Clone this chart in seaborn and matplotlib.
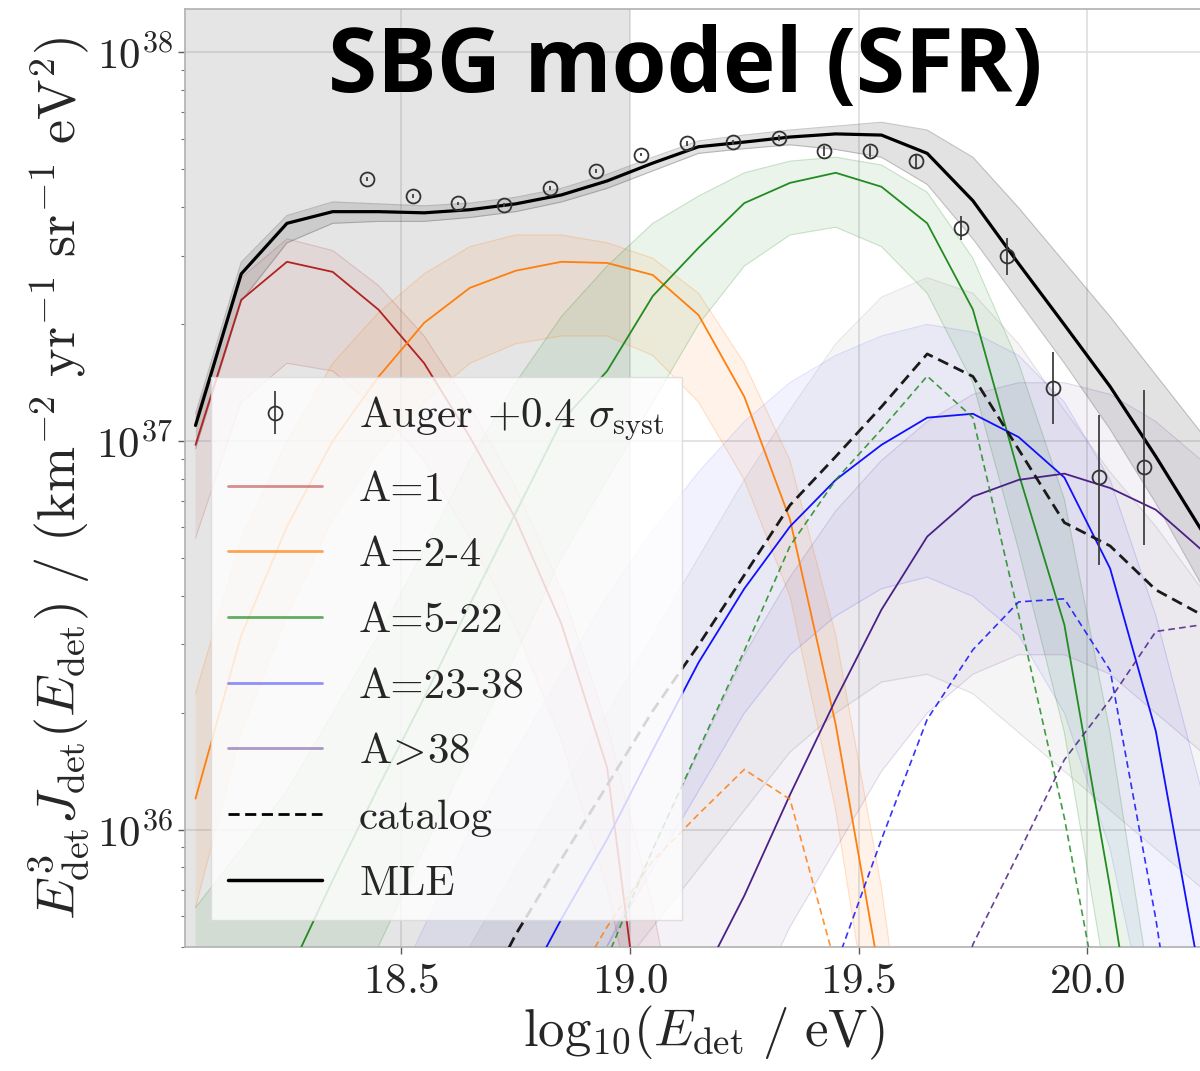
import numpy as np
import matplotlib
matplotlib.use("Agg")
import matplotlib.pyplot as plt
from matplotlib.lines import Line2D
from matplotlib.ticker import LogLocator, NullFormatter
import seaborn as sns

nan = np.nan

# model bin centres, log10(E_det / eV)
E_BINS = [18.05, 18.15, 18.25, 18.35, 18.45, 18.55, 18.65, 18.75, 18.85, 18.95, 19.05,
          19.15, 19.25, 19.35, 19.45, 19.55, 19.65, 19.75, 19.85, 19.95, 20.05, 20.15, 20.25]

# --- MLE curves, log10(E^3 J) ---
MLE_TOTAL = [37.04, 37.43, 37.56, 37.59, 37.59, 37.587, 37.595, 37.61, 37.633, 37.669, 37.715,
             37.757, 37.769, 37.782, 37.79, 37.787, 37.74, 37.618, 37.456, 37.299, 37.14, 36.96, 36.77]
MLE_A1 = [36.99, 37.363, 37.461, 37.435, 37.338, 37.2, 37.01, 36.8, 36.53, 36.16, 35.24,
          34.5] + [nan] * 11
MLE_A2_4 = [36.08, 36.5, 36.78, 37.0, 37.165, 37.304, 37.394, 37.438, 37.461, 37.458, 37.427,
            37.324, 37.114, 36.798, 36.27, 35.6, 34.8] + [nan] * 6
MLE_A5_22 = [35.3, 35.45, 35.62, 35.87, 36.11, 36.34, 36.58, 36.815, 37.05, 37.18, 37.373,
             37.497, 37.612, 37.664, 37.69, 37.654, 37.56, 37.338, 36.916, 36.527, 35.85, 35.1, nan]
MLE_A23_38 = [nan] * 4 + [34.9, 35.2, 35.4, 35.55, 35.77, 35.975, 36.205, 36.43, 36.62, 36.78,
                          36.9, 36.99, 37.06, 37.07, 37.01, 36.906, 36.672, 36.253, 35.6]
MLE_A38 = [nan] * 7 + [34.6, 34.8, 35.0, 35.3, 35.6, 35.83, 36.09, 36.335, 36.566, 36.754,
                       36.857, 36.90, 36.916, 36.879, 36.823, 36.72]

# --- catalog contribution (dashed) ---
CAT_TOTAL = [nan] * 6 + [35.5, 35.73, 35.924, 36.114, 36.306, 36.475, 36.655, 36.835, 36.96,
                         37.088, 37.224, 37.166, 36.978, 36.79, 36.73, 36.617, 36.553]
CAT_A2_4 = [nan] * 7 + [35.3, 35.55, 35.75, 35.92, 36.04, 36.155, 36.078, 35.65, 35.0] + [nan] * 7
CAT_A5_22 = [nan] * 9 + [35.67, 35.95, 36.206, 36.46, 36.73, 36.9, 37.03, 37.167, 37.06,
                         36.553, 36.03, 35.4, nan, nan]
CAT_A23_38 = [nan] * 13 + [35.3, 35.65, 35.975, 36.284, 36.463, 36.586, 36.594, 36.41, 35.77, 35.0]
CAT_A38 = [nan] * 16 + [35.3, 35.705, 35.94, 36.18, 36.335, 36.51, 36.527]

# --- spread of the posterior samples (upper / lower edge of each bundle) ---
TOT_HI = [37.07, 37.46, 37.58, 37.615, 37.61, 37.605, 37.612, 37.627, 37.65, 37.686, 37.73,
          37.772, 37.787, 37.80, 37.81, 37.82, 37.80, 37.73, 37.60, 37.46, 37.32, 37.17, 37.02]
TOT_LO = [36.98, 37.36, 37.51, 37.56, 37.565, 37.565, 37.575, 37.59, 37.615, 37.65, 37.695,
          37.74, 37.752, 37.762, 37.75, 37.73, 37.66, 37.52, 37.36, 37.20, 37.03, 36.84, 36.63]
CATS_HI = [nan] * 6 + [35.7, 35.9, 36.1, 36.3, 36.5, 36.7, 36.9, 37.08, 37.25, 37.37, 37.42,
                       37.38, 37.25, 37.08, 36.92, 36.78, 36.62]
CATS_LO = [nan] * 6 + [35.1, 35.3, 35.45, 35.6, 35.75, 35.9, 36.05, 36.2, 36.3, 36.38, 36.4,
                       36.35, 36.25, 36.15, 36.05, 35.95, 35.85]
A1_HI = [37.06, 37.42, 37.52, 37.49, 37.40, 37.27, 37.09, 36.88, 36.62, 36.27, 35.8, 35.2] + [nan] * 11
A1_LO = [36.75, 37.10, 37.20, 37.18, 37.08, 36.95, 36.75, 36.52, 36.23, 35.85, 35.3, 34.6] + [nan] * 11
A2_HI = [36.35, 36.75, 37.0, 37.2, 37.33, 37.43, 37.5, 37.53, 37.53, 37.51, 37.47, 37.38, 37.2,
         36.95, 36.5, 35.85, 35.0] + [nan] * 6
A2_LO = [35.8, 36.25, 36.55, 36.8, 36.97, 37.1, 37.2, 37.25, 37.27, 37.27, 37.22, 37.1, 36.9,
         36.6, 36.05, 35.3, 34.5] + [nan] * 6
A5_HI = [35.8, 35.95, 36.1, 36.3, 36.5, 36.72, 36.95, 37.15, 37.32, 37.45, 37.56, 37.63, 37.69,
         37.72, 37.73, 37.71, 37.64, 37.47, 37.2, 36.85, 36.25, 35.5, 34.8]
A5_LO = [34.8, 35.0, 35.2, 35.45, 35.7, 35.95, 36.2, 36.45, 36.7, 36.9, 37.1, 37.3, 37.45,
         37.53, 37.55, 37.5, 37.38, 37.15, 36.72, 36.25, 35.55, 34.85, 34.2]
A23_HI = [nan] * 4 + [35.5, 35.75, 36.0, 36.2, 36.4, 36.6, 36.77, 36.92, 37.05, 37.15, 37.22,
                      37.27, 37.3, 37.28, 37.22, 37.1, 36.9, 36.55, 36.1]
A23_LO = [nan] * 4 + [34.7, 34.9, 35.1, 35.3, 35.5, 35.7, 35.9, 36.1, 36.3, 36.45, 36.55,
                      36.62, 36.65, 36.6, 36.5, 36.3, 35.95, 35.4, 34.8]
A38_HI = [nan] * 7 + [35.2, 35.45, 35.7, 35.95, 36.2, 36.45, 36.65, 36.82, 36.95, 37.05, 37.12,
                      37.15, 37.15, 37.12, 37.05, 36.95]
A38_LO = [nan] * 7 + [34.3, 34.5, 34.75, 35.0, 35.25, 35.5, 35.75, 35.95, 36.15, 36.3, 36.4,
                      36.45, 36.45, 36.4, 36.3, 36.2]

# --- Auger data (+0.4 sigma_syst), log10 values ---
AUGER_E = [18.425, 18.525, 18.625, 18.725, 18.825, 18.925, 19.025, 19.125, 19.225,
           19.325, 19.425, 19.525, 19.625, 19.725, 19.825, 19.925, 20.025, 20.125]
AUGER_Y = [37.674, 37.631, 37.611, 37.606, 37.650, 37.695, 37.737, 37.766, 37.768,
           37.780, 37.746, 37.745, 37.720, 37.549, 37.477, 37.137, 36.908, 36.934]
AUGER_UP = [37.679, 37.636, 37.616, 37.611, 37.655, 37.700, 37.742, 37.772, 37.774,
            37.787, 37.758, 37.759, 37.737, 37.579, 37.523, 37.230, 37.066, 37.130]
AUGER_DN = [37.669, 37.626, 37.606, 37.601, 37.645, 37.690, 37.732, 37.760, 37.762,
            37.773, 37.734, 37.731, 37.703, 37.517, 37.427, 37.044, 36.682, 36.733]

RED, ORANGE, GREEN, BLUE, PURPLE = "#b22222", "#ff7f0e", "#228b22", "#1010ff", "#4b2185"


def lin(a):
    return 10 ** np.asarray(a, dtype=float)


sns.set_theme(style="whitegrid")
plt.rcParams["font.family"] = ["cmr10", "DejaVu Serif"]
plt.rcParams["mathtext.fontset"] = "cm"
plt.rcParams["axes.formatter.use_mathtext"] = True

fig = plt.figure(figsize=(12, 10.71), dpi=100)
ax = fig.add_axes([185 / 1200, 1 - 946.7 / 1071, 1038 / 1200, 937.4 / 1071])
ax.set_yscale("log")

x = np.array(E_BINS)

# shaded region below 10^19 eV
ax.axvspan(17.9, 19.0, color="0.5", alpha=0.2, lw=0, zorder=0.6)

# sample bundles
bands = [(CATS_LO, CATS_HI, "0.45", 0.07), (A1_LO, A1_HI, RED, 0.07),
         (A2_LO, A2_HI, ORANGE, 0.09), (A5_LO, A5_HI, GREEN, 0.09),
         (A23_LO, A23_HI, BLUE, 0.05), (A38_LO, A38_HI, PURPLE, 0.06),
         (TOT_LO, TOT_HI, "0.3", 0.16)]
for lo, hi, c, a in bands:
    ax.fill_between(x, lin(lo), lin(hi), color=c, alpha=a, lw=0, zorder=1)
    for edge in (lo, hi):
        ax.plot(x, lin(edge), color=c, alpha=min(2.5 * a, 0.3), lw=0.8, zorder=1.1)

# MLE component curves
for vals, c in [(MLE_A1, RED), (MLE_A2_4, ORANGE), (MLE_A5_22, GREEN),
                (MLE_A23_38, BLUE), (MLE_A38, PURPLE)]:
    sns.lineplot(x=x, y=lin(vals), ax=ax, color=c, lw=1.3, zorder=3)

# catalog contributions
for vals, c in [(CAT_A2_4, ORANGE), (CAT_A5_22, GREEN), (CAT_A23_38, BLUE), (CAT_A38, PURPLE)]:
    ax.plot(x, lin(vals), color=c, lw=1.2, ls=(0, (4, 2.5)), alpha=0.85, zorder=3)
ax.plot(x, lin(CAT_TOTAL), color="0.1", lw=2.0, ls=(0, (4, 2.2)), zorder=4)

# total MLE
sns.lineplot(x=x, y=lin(MLE_TOTAL), ax=ax, color="black", lw=2.3, zorder=5)

# data
ay = lin(AUGER_Y)
yerr = [ay - lin(AUGER_DN), lin(AUGER_UP) - ay]
eb = ax.errorbar(AUGER_E, ay, yerr=yerr, fmt="o", ms=10, mfc="none", mec="0.2",
                 mew=1.3, ecolor="0.25", elinewidth=1.3, capsize=0, zorder=6)

ax.set_xlim(18.027, 18.027 + 1038 / 457.3)
ax.set_ylim(5.0e35, 1.29e38)
ax.set_xticks([18.5, 19.0, 19.5, 20.0])
ax.yaxis.set_major_locator(LogLocator(base=10, numticks=10))
ax.yaxis.set_minor_locator(LogLocator(base=10, subs=np.arange(2, 10), numticks=20))
ax.yaxis.set_minor_formatter(NullFormatter())
ax.grid(True, which="major", color="0.87", lw=1.2)
ax.grid(False, which="minor")
ax.tick_params(axis="both", which="major", labelsize=31, length=5, width=1, color="0.35",
               left=True, bottom=True, pad=7, labelcolor="0.15")
ax.tick_params(axis="y", which="major", pad=4)
ax.tick_params(axis="y", which="minor", length=3, width=0.8, color="0.45", left=True)
for s in ax.spines.values():
    s.set_color("0.7")

ax.set_xlabel(r"${\rm log}_{10}(E_{\rm det}\ /\ {\rm eV})$", fontsize=38, labelpad=2, color="0.15")
ax.set_ylabel(r"$E^3_{\rm det}J_{\rm det}(E_{\rm det})\ /\ ({\rm km}^{-2}\ {\rm yr}^{-1}\ "
              r"{\rm sr}^{-1}\ {\rm eV}^2)$", fontsize=39, labelpad=2, color="0.15")

handles = [eb,
           Line2D([], [], color=RED, alpha=0.5, lw=2),
           Line2D([], [], color=ORANGE, alpha=0.7, lw=2),
           Line2D([], [], color=GREEN, alpha=0.7, lw=2),
           Line2D([], [], color=BLUE, alpha=0.45, lw=2),
           Line2D([], [], color=PURPLE, alpha=0.45, lw=2),
           Line2D([], [], color="black", lw=2, ls=(0, (4, 2))),
           Line2D([], [], color="black", lw=2.5)]
labels = [r"Auger $+0.4\ \sigma_{\rm syst}$", "A=1", "A=2-4", "A=5-22", "A=23-38",
          r"A$\!>\!$38", "catalog", "MLE"]
leg = ax.legend(handles, labels, loc="lower left", bbox_to_anchor=(0.0246, 0.0285),
                borderaxespad=0, fontsize=31, handlelength=2.2, handletextpad=0.85,
                labelspacing=0.64, borderpad=0.4, fancybox=False, framealpha=0.82,
                facecolor="white", edgecolor="0.85")
leg.set_zorder(10)
for t in leg.get_texts():
    t.set_color("0.15")

fig.text(685 / 1200, 1 - 92 / 1071, "SBG model (SFR)", family="Open Sans", weight="bold",
         fontsize=64, ha="center", va="baseline", color="black")

fig.savefig("out.png", dpi=100)
